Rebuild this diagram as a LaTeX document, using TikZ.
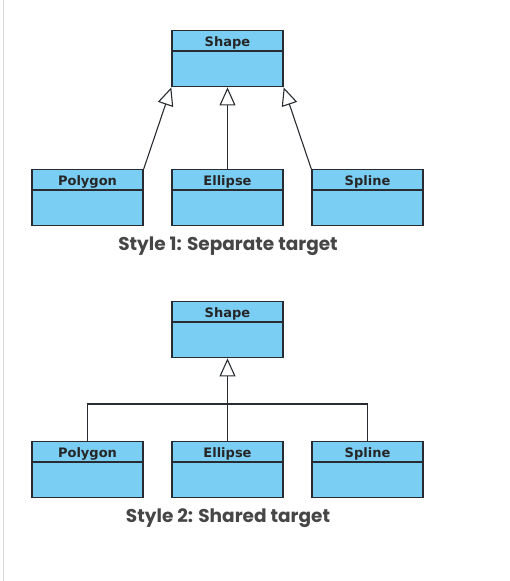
\documentclass[tikz,border=0pt]{standalone}
\usepackage{fontspec}
\setmainfont{DejaVu Sans}
\newfontfamily\capfont{Poppins}
\usetikzlibrary{arrows.meta}
\definecolor{boxfill}{RGB}{122,206,244}
\definecolor{boxline}{RGB}{40,44,48}
\definecolor{captxt}{RGB}{70,70,70}
\tikzset{
  classbox/.style={draw=boxline, fill=boxfill, line width=1.4pt, minimum width=111pt, minimum height=56pt, inner sep=0pt, anchor=north},
  classlab/.style={font=\fontsize{13}{14}\selectfont\bfseries, text=black!85, inner sep=0pt},
  conn/.style={draw=boxline, line width=1.1pt},
  inh/.style={conn, -{Triangle[open, length=18pt, width=16pt, fill=white]}},
  caption/.style={font=\capfont\bfseries\fontsize{18.5}{19}\selectfont, text=captxt, inner sep=0pt}
}
\newcommand{\umlclass}[4]{%
  \node[classbox] (#1) at (#2,#3) {};
  \draw[boxline, line width=1.1pt] ([yshift=-21pt]#1.north west) -- ([yshift=-21pt]#1.north east);
  \node[classlab] (#1-t) at ([yshift=-12.5pt]#1.north) {#4};
}
\begin{document}
\begin{tikzpicture}[x=1pt,y=-1pt]
\useasboundingbox (0,0) rectangle (509,581);
\draw[black!15, line width=1pt] (3.7,0) -- (3.7,581);
% Style 1
\umlclass{shapeA}{227.5}{30}{Shape}
\umlclass{polyA}{87.5}{169}{Polygon}
\umlclass{ellA}{227.5}{169}{Ellipse}
\umlclass{splA}{367.5}{169}{Spline}
\draw[inh] (polyA.north east) -- (shapeA.south west);
\draw[inh] (ellA.north) -- (shapeA.south);
\draw[inh] (splA.north west) -- (shapeA.south east);
\node[caption] (capA) at (228,246) {Style 1: Separate target};
% Style 2
\umlclass{shapeB}{227.5}{301}{Shape}
\umlclass{polyB}{87.5}{441}{Polygon}
\umlclass{ellB}{227.5}{441}{Ellipse}
\umlclass{splB}{367.5}{441}{Spline}
\coordinate (jn) at (227.5,404);
\draw[conn] (polyB.north) -- (polyB.north |- jn) -- (splB.north |- jn) -- (splB.north);
\draw[inh] (ellB.north) -- (shapeB.south);
\node[caption] (capB) at (228,518) {Style 2: Shared target};
\end{tikzpicture}
\end{document}
